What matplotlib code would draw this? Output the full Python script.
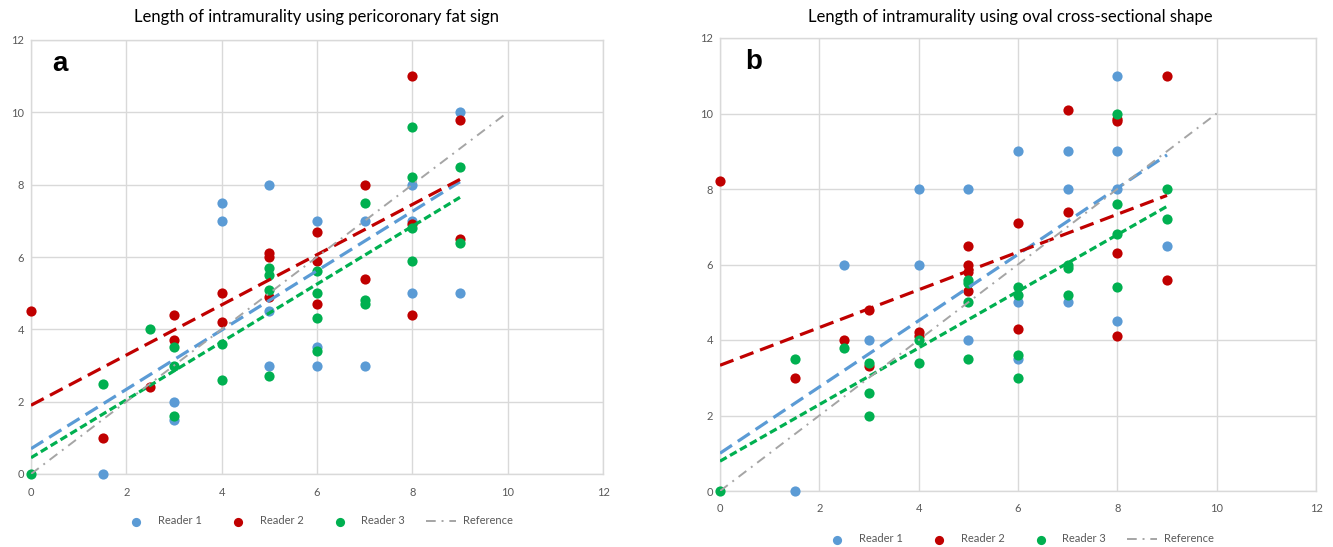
import matplotlib
matplotlib.use("Agg")
import matplotlib.pyplot as plt
import numpy as np

plt.rcParams['font.family'] = ['Lato', 'DejaVu Sans']

# ---------------- Data: panel a (pericoronary fat sign) ----------------
a_r1_x = [1.5, 3, 3, 4, 4, 5, 5, 5, 6, 6, 6, 7, 7, 8, 8, 8, 9, 9]
a_r1_y = [0, 2, 1.5, 7.5, 7, 8, 4.5, 3, 7, 3.5, 3, 7, 3, 8, 7, 5, 10, 5]
a_r2_x = [0, 1.5, 2.5, 3, 3, 4, 4, 5, 5, 5, 6, 6, 6, 7, 7, 8, 8, 8, 9, 9]
a_r2_y = [4.5, 1.0, 2.4, 4.4, 3.7, 5.0, 4.2, 6.1, 6.0, 4.9, 6.7, 5.9, 4.7, 8.0, 5.4, 11.0, 6.9, 4.4, 9.8, 6.5]
a_r3_x = [0, 1.5, 2.5, 3, 3, 3, 4, 4, 5, 5, 5, 5, 6, 6, 6, 6, 7, 7, 7, 8, 8, 8, 8, 9, 9]
a_r3_y = [0, 2.5, 4.0, 3.5, 3.0, 1.6, 3.6, 2.6, 5.7, 5.5, 5.1, 2.7, 5.6, 5.0, 4.3, 3.4, 7.5, 4.8, 4.7, 9.6, 8.2, 6.8, 5.9, 8.5, 6.4]
# trend lines (intercept, slope)
a_trend_intercepts = [0.70, 1.90, 0.45]
a_trend_slopes = [0.82, 0.694, 0.80]

# ---------------- Data: panel b (oval cross-sectional shape) ----------------
b_r1_x = [1.5, 2.5, 3, 4, 4, 5, 5, 6, 6, 6, 7, 7, 7, 8, 8, 8, 8, 9]
b_r1_y = [0, 6, 4, 8, 6, 8, 4, 9, 5, 3.5, 9, 8, 5, 11, 9, 8, 4.5, 6.5]
b_r2_x = [0, 1.5, 2.5, 3, 3, 4, 4, 5, 5, 5, 5, 6, 6, 7, 7, 8, 8, 8, 8, 9, 9]
b_r2_y = [8.2, 3.0, 4.0, 4.8, 3.3, 4.2, 4.1, 6.5, 6.0, 5.8, 5.3, 7.1, 4.3, 10.1, 7.4, 9.85, 9.8, 6.3, 4.1, 11.0, 5.6]
b_r3_x = [0, 1.5, 2.5, 3, 3, 3, 4, 4, 5, 5, 5, 5, 6, 6, 6, 6, 7, 7, 7, 8, 8, 8, 8, 9, 9]
b_r3_y = [0, 3.5, 3.8, 3.4, 2.6, 2.0, 4.0, 3.4, 5.6, 5.5, 5.0, 3.5, 5.4, 5.2, 3.6, 3.0, 6.0, 5.9, 5.2, 10.0, 7.6, 6.8, 5.4, 8.0, 7.2]
b_trend_intercepts = [1.00, 3.33, 0.79]
b_trend_slopes = [0.878, 0.50, 0.75]

reader_labels = ["Reader 1", "Reader 2", "Reader 3"]
reference_label = "Reference"
titles = ["Length of intramurality using pericoronary fat sign",
          "Length of intramurality using oval cross-sectional shape"]
panel_letters = ["a", "b"]
ticks = [0, 2, 4, 6, 8, 10, 12]

colors = ["#5B9BD5", "#C00000", "#00B050"]
gray = "#A5A5A5"
trend_styles = [(0, (4.5, 2.2)), (0, (4.5, 2.2)), (0, (2.4, 1.2))]

W, H = 1333, 547
fig = plt.figure(figsize=(W / 100, H / 100), dpi=100)

def px_axes(left, top, right, bottom):
    return fig.add_axes([left / W, 1 - bottom / H, (right - left) / W, (bottom - top) / H])

ax_a = px_axes(31, 40, 603, 474)
ax_b = px_axes(720, 38, 1316, 491)

panels = [
    (ax_a, [(a_r1_x, a_r1_y), (a_r2_x, a_r2_y), (a_r3_x, a_r3_y)], a_trend_intercepts, a_trend_slopes,
     -47 / 434, 317, (0.038, 0.945)),
    (ax_b, [(b_r1_x, b_r1_y), (b_r2_x, b_r2_y), (b_r3_x, b_r3_y)], b_trend_intercepts, b_trend_slopes,
     -48 / 453, 1010, (0.042, 0.946)),
]

for i, (ax, series, ints, slopes, leg_y, title_x, letter_pos) in enumerate(panels):
    ax.set_xlim(0, 12)
    ax.set_ylim(0, 12)
    ax.set_xticks(ticks)
    ax.set_yticks(ticks)
    ax.grid(True, color="#D9D9D9", linewidth=1.0)
    ax.set_axisbelow(True)
    for s in ax.spines.values():
        s.set_color("#D9D9D9")
        s.set_linewidth(1.0)
    ax.tick_params(length=0, labelsize=8, labelcolor="#595959")
    ax.tick_params(axis="x", pad=9)
    ax.tick_params(axis="y", pad=5)
    handles = []
    for k, (xs, ys) in enumerate(series):
        h = ax.scatter(xs, ys, s=54, color=colors[k], zorder=3, linewidths=0,
                       label=reader_labels[k], clip_on=False)
        handles.append(h)
    for k in range(3):
        xx = np.array([0, max(series[k][0])])
        ax.plot(xx, ints[k] + slopes[k] * xx, color=colors[k], lw=2.3,
                linestyle=trend_styles[k], zorder=4)
    ref, = ax.plot([0, 10], [0, 10], color=gray, lw=1.4,
                   linestyle=(0, (5, 3, 1, 3)), zorder=4, label=reference_label)
    handles.append(ref)
    ax.legend(handles=handles, loc="center", bbox_to_anchor=(0.5, leg_y),
              ncol=4, frameon=False, fontsize=8, labelcolor="#595959",
              columnspacing=1.9, handlelength=2.7, handletextpad=0.6,
              markerscale=0.9, borderaxespad=0)
    fig.text(title_x / W, 1 - 17 / H, titles[i], fontsize=12, color="#000000",
             ha="center", va="center")
    ax.text(letter_pos[0], letter_pos[1], panel_letters[i], transform=ax.transAxes, fontsize=20,
            fontweight="bold", ha="left", va="center", family="Liberation Sans")

fig.savefig("out.png", dpi=100)
